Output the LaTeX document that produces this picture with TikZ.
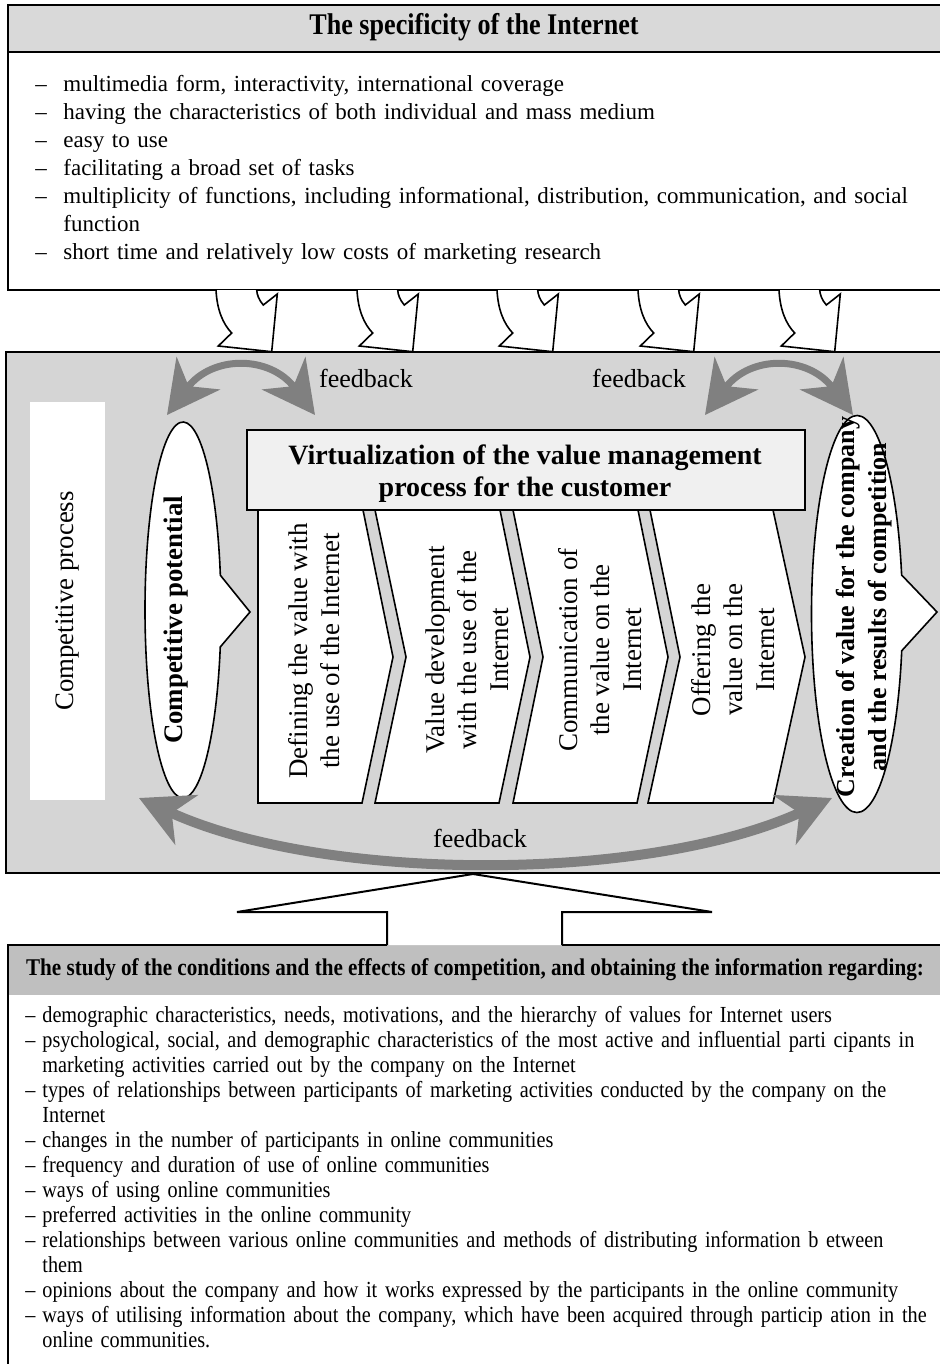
\documentclass[tikz,border=0pt]{standalone}
\usepackage{fontspec}
\setmainfont{Liberation Serif}
\newfontfamily\condfont[FakeStretch=0.88,Ligatures=TeX]{Liberation Serif}
\newfontfamily\headfont[FakeStretch=0.87,Ligatures=TeX]{Liberation Serif}
\usetikzlibrary{arrows.meta,shapes.callouts}

\definecolor{headgray}{HTML}{D9D9D9}
\definecolor{midgray}{HTML}{D5D5D5}
\definecolor{studygray}{HTML}{BFBFBF}
\definecolor{titlegray}{HTML}{F0F0F0}
\definecolor{fbgray}{HTML}{808080}

\newcommand{\specitem}[1]{\hangindent=14pt\makebox[14pt][l]{\textendash}#1\par}
\newcommand{\studyitem}[1]{\hangindent=8.5pt\makebox[8.5pt][l]{\textendash}#1\par}

\tikzset{
  boxline/.style={draw=black,line width=1pt},
  downarrow/.style={draw=black,line width=0.8pt,fill=white},
  stepbox/.style={draw=black,line width=0.8pt,fill=white},
  steptext/.style={rotate=90,align=center,font=\fontsize{13.5}{16}\selectfont},
  fbarrow/.style={draw=fbgray,line width=3.5pt,
    {Stealth[length=26pt,width=27pt,inset=8pt]}-{Stealth[length=26pt,width=27pt,inset=8pt]}},
  fblabel/.style={font=\fontsize{13}{15}\selectfont},
  callbox/.style={ellipse callout,draw=black,line width=0.8pt,fill=white,inner sep=0pt}
}

\begin{document}
\begin{tikzpicture}[x=0.5pt,y=-0.5pt]
  \useasboundingbox (0,0) rectangle (940,1364);

  %% Specificity of the Internet
  \draw[boxline,fill=white] (8,5) rectangle (941,290);
  \draw[boxline,fill=headgray] (8,5) rectangle (941,52);
  \node[font=\headfont\bfseries\fontsize{15}{17}\selectfont] (spectitle) at (474,27) {The specificity of the Internet};
  \node[anchor=base west,inner sep=0pt,text width=452pt,align=left,
        font=\fontsize{11.5}{14}\selectfont] (speclist) at (35,92) {%
    \specitem{multimedia form, interactivity, international coverage}%
    \specitem{having the characteristics of both individual and mass medium}%
    \specitem{easy to use}%
    \specitem{facilitating a broad set of tasks}%
    \specitem{multiplicity of functions, including informational, distribution, communication, and social\newline function}%
    \specitem{short time and relatively low costs of marketing research}};

  %% Competition area
  \draw[boxline,fill=midgray] (6,352) rectangle (941,873);

  %% Arrows from the Internet box
  \foreach \x in {216,357,497,638,779}{
    \draw[downarrow] (\x,290) .. controls (\x+1,310) and (\x+7,324) .. (\x+15.7,333)
      -- (\x+2.3,346) -- (\x+55.7,351.7) -- (\x+61.3,294) -- (\x+47.3,305)
      .. controls (\x+43,300) and (\x+41,295) .. (\x+40.7,290);
  }

  \node[fill=white,rotate=90,minimum width=199pt,minimum height=37.5pt,
        font=\fontsize{13.4}{15}\selectfont] (process) at (67.5,601) {Competitive process};

  %% Potential and results
  \node[callbox,minimum width=38pt,minimum height=188pt,callout pointer arc=22,
        callout absolute pointer={(250,612)}] (potential) at (183,610) {};
  \node[rotate=90,font=\bfseries\fontsize{13.4}{15}\selectfont] (potentialtext) at (176,620) {Competitive potential};
  \node[callbox,minimum width=45.5pt,minimum height=198.5pt,callout pointer arc=22,
        callout absolute pointer={(937,612)}] (results) at (857,614) {};
  \node[rotate=90,align=center,font=\bfseries\fontsize{13}{16}\selectfont] (resultstext) at (864,607)
    {Creation of value for the company\\and the results of competition};

  %% Value management steps
  \draw[stepbox] (258,510) -- (363,510) -- (393,657) -- (362,803) -- (258,803) -- cycle;
  \draw[stepbox] (375,510) -- (500,510) -- (530,657) -- (499,803) -- (375,803) -- (406,657) -- cycle;
  \draw[stepbox] (513,510) -- (638,510) -- (668,657) -- (637,803) -- (513,803) -- (543,657) -- cycle;
  \draw[stepbox] (650,510) -- (773,510) -- (805,657) -- (773,803) -- (648,803) -- (680,657) -- cycle;
  \node[steptext] (define) at (314,651) {Defining the value with\\the use of the Internet};
  \node[steptext] (develop) at (467,650) {Value development\\with the use of the\\Internet};
  \node[steptext] (communicate) at (600,650) {Communication of\\the value on the\\Internet};
  \node[steptext] (offer) at (733,650) {Offering the\\value on the\\Internet};

  \node[draw=black,line width=0.8pt,fill=titlegray,minimum width=279pt,minimum height=40pt,
        align=center,font=\bfseries\fontsize{14}{16}\selectfont] (virtual) at (526,470) {};
  \node[align=center,font=\bfseries\fontsize{14}{16}\selectfont] (virtualtext) at (525,474)
    {Virtualization of the value management\\process for the customer};

  %% Feedback
  \coordinate (fbA) at (167,415);
  \coordinate (fbB) at (315,415);
  \coordinate (fbC) at (705,415);
  \coordinate (fbD) at (853,415);
  \coordinate (fbE) at (139,798);
  \coordinate (fbF) at (832,798);
  \draw[fbarrow] (fbA) .. controls +(45,-60) and +(-45,-60) .. (fbB);
  \draw[fbarrow] (fbC) .. controls +(45,-60) and +(-45,-60) .. (fbD);
  \draw[fbarrow,line width=5pt] (fbE) .. controls +(185,85) and +(-185,85) .. (fbF);
  \node[fblabel] (fbtop1) at (366,378) {feedback};
  \node[fblabel] (fbtop2) at (639,378) {feedback};
  \node[fblabel] (fbbottom) at (480,838) {feedback};

  %% Study of competition
  \fill[studygray] (8,945) rectangle (941,995);
  \draw[boxline] (387,945) -- (8,945) -- (8,1370);
  \draw[boxline] (562,945) -- (941,945);
  \draw[boxline,fill=white] (387,945) -- (387,912) -- (237,912) -- (473,874)
    -- (712,912) -- (562,912) -- (562,945);
  \node[font=\condfont\bfseries\fontsize{12}{14}\selectfont] (studytitle) at (475,970)
    {The study of the conditions and the effects of competition, and obtaining the information regarding:};
  \node[anchor=base west,inner sep=0pt,text width=452pt,align=left,
        font=\condfont\fontsize{11.5}{12.5}\selectfont] (studylist) at (25,1022) {%
    \studyitem{demographic characteristics, needs, motivations, and the hierarchy of values for Internet users}%
    \studyitem{psychological, social, and demographic characteristics of the most active and influential parti cipants in\newline marketing activities carried out by the company on the Internet}%
    \studyitem{types of relationships between participants of marketing activities conducted by the company on the\newline Internet}%
    \studyitem{changes in the number of participants in online communities}%
    \studyitem{frequency and duration of use of online communities}%
    \studyitem{ways of using online communities}%
    \studyitem{preferred activities in the online community}%
    \studyitem{relationships between various online communities and methods of distributing information b etween\newline them}%
    \studyitem{opinions about the company and how it works expressed by the participants in the online community}%
    \studyitem{ways of utilising information about the company, which have been acquired through particip ation in the\newline online communities.}};
\end{tikzpicture}
\end{document}
